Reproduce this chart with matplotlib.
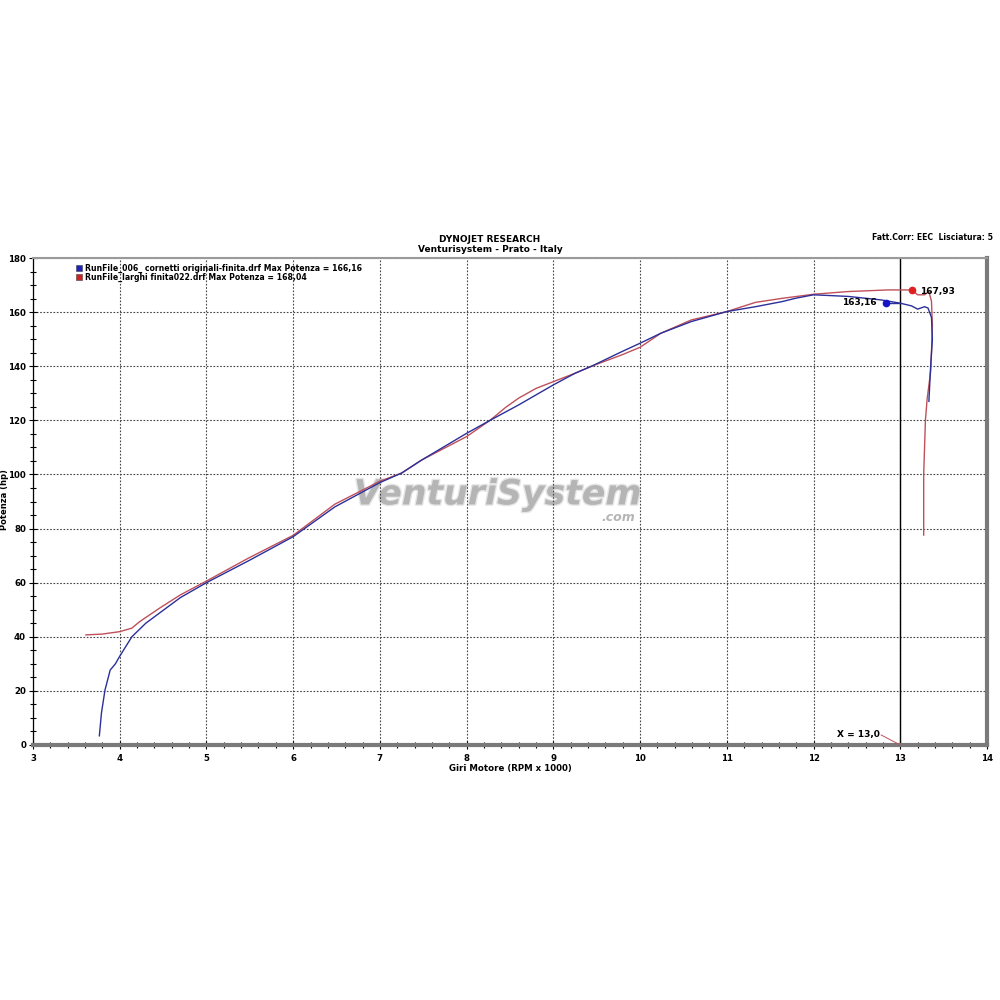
import matplotlib.pyplot as plt
import matplotlib.patheffects as pe
from matplotlib.ticker import MultipleLocator

# --- data ---
blue_x = [3.765, 3.79, 3.83, 3.89, 3.95, 4.0, 4.14, 4.3, 4.46, 4.7, 5.0, 5.48, 6.0, 6.48,
          7.0, 7.25, 7.48, 8.0, 8.27, 8.6, 9.0, 9.25, 9.44, 9.79, 10.0, 10.24, 10.59,
          11.0, 11.33, 11.64, 11.79, 12.0, 12.4, 12.78, 13.0, 13.13, 13.2, 13.28, 13.32,
          13.36, 13.37, 13.35, 13.33]
blue_y = [3.4, 12, 20.3, 27.7, 30, 32.8, 40, 45, 48.8, 54.5, 60, 68, 77, 88,
          97, 100.5, 105.3, 115.2, 120, 125.7, 133.1, 137.4, 140, 145.4, 148.5, 152.2, 156.5,
          160.2, 162, 163.9, 165.1, 166.4, 165.8, 164.5, 163.3, 162.3, 161.1, 162, 161.5,
          158, 150, 140, 127]

red_x = [3.61, 3.8, 4.0, 4.14, 4.23, 4.46, 4.7, 5.0, 5.48, 6.0, 6.48, 7.0, 7.25, 7.48,
         8.0, 8.27, 8.45, 8.6, 8.8, 9.0, 9.25, 9.44, 9.79, 10.0, 10.24, 10.59, 11.0, 11.33, 11.64,
         12.0, 12.4, 12.86, 13.13, 13.2, 13.28, 13.33, 13.36, 13.37, 13.36, 13.35, 13.31,
         13.29, 13.28, 13.27, 13.27, 13.27]
red_y = [40.7, 41, 41.9, 43.2, 45.6, 50.6, 55.5, 60.6, 69, 77.5, 89, 97.5, 100.5, 105.3,
         114, 120, 124.8, 128.2, 131.8, 134.3, 137.4, 140, 144.2, 147, 152.2, 157.1, 160.2, 163.6, 165.1,
         166.6, 167.6, 168.2, 168.2, 166.4, 166.4, 167.6, 164, 155, 145, 138, 128,
         120, 110, 100, 90, 77.6]

legend_labels = ["RunFile_006_ cornetti originali-finita.drf Max Potenza = 166,16",
                 "RunFile_larghi finita022.drf Max Potenza = 168,04"]
blue_mark = (12.83, 163.4)
red_mark = (13.13, 168.2)
cursor_x = 13.0

BLUE = "#2b2f9a"
RED = "#c0505a"

fig = plt.figure(figsize=(10, 10), dpi=100)
ax = fig.add_axes([0.033, 0.255, 0.954, 0.487])

ax.set_xlim(3, 14)
ax.set_ylim(0, 180)
ax.xaxis.set_major_locator(MultipleLocator(1))
ax.xaxis.set_minor_locator(MultipleLocator(0.2))
ax.yaxis.set_major_locator(MultipleLocator(20))
ax.yaxis.set_minor_locator(MultipleLocator(5))
ax.grid(True, which="major", color="#444444", linestyle=(0, (1.5, 1.5)), linewidth=0.8)
ax.tick_params(which="both", direction="inout", color="black", labelsize=6.2)
ax.tick_params(which="major", length=6, width=0.8)
ax.tick_params(which="minor", length=5, width=0.8)
ax.tick_params(axis="y", pad=2)
for lab in ax.get_xticklabels() + ax.get_yticklabels():
    lab.set_fontweight("bold")

ax.spines["left"].set_color("black")
ax.spines["left"].set_linewidth(0.9)
ax.spines["bottom"].set_color("#7a7a7a")
ax.spines["bottom"].set_linewidth(3)
ax.spines["top"].set_color("#9a9a9a")
ax.spines["top"].set_linewidth(1.5)
ax.spines["right"].set_color("#7a7a7a")
ax.spines["right"].set_linewidth(3)

# watermark
ax.text(8.36, 92.6, "VenturiSystem", ha="center", va="center", fontsize=25,
        fontweight="bold", style="italic", color="#b5b5b5", zorder=1,
        path_effects=[pe.withStroke(linewidth=2, foreground="#e6e6e6")])
ax.text(9.75, 84.0, ".com", ha="center", va="center", fontsize=9,
        fontweight="bold", style="italic", color="#b5b5b5", zorder=1)

ax.plot(red_x, red_y, color=RED, linewidth=1.0, zorder=3)
ax.plot(blue_x, blue_y, color=BLUE, linewidth=1.0, zorder=3)

# cursor
ax.axvline(cursor_x, color="black", linewidth=1.0, zorder=2)
ax.plot([blue_mark[0], cursor_x], [blue_mark[1], blue_mark[1]], color=BLUE, lw=1, zorder=3)
ax.plot(*blue_mark, "o", color="#1414c8", markersize=4.5, zorder=4)
ax.plot(*red_mark, "o", color="#e02020", markersize=4.5, zorder=4)
ax.text(blue_mark[0] - 0.1, blue_mark[1], "163,16", ha="right", va="center",
        fontsize=6.5, fontweight="bold")
ax.text(red_mark[0] + 0.1, red_mark[1] - 0.4, "167,93", ha="left", va="center",
        fontsize=6.5, fontweight="bold")
ax.plot([12.78, cursor_x], [3.7, 0], color=RED, linewidth=0.7, zorder=3)
ax.text(12.77, 3.7, "X = 13,0", ha="right", va="center", fontsize=6.5, fontweight="bold")

# legend-like labels
for i, (lab, col) in enumerate(zip(legend_labels, ["#2020c0", "#d02020"])):
    yy = 176.2 - i * 3.3
    ax.plot(3.53, yy, "s", color=col, markersize=4, markeredgecolor="#404040",
            markeredgewidth=0.4, zorder=4)
    ax.text(3.6, yy, lab, ha="left", va="center", fontsize=5.6, fontweight="bold")

ax.set_xlabel("Giri Motore (RPM x 1000)", fontsize=6.2, fontweight="bold", labelpad=1)
fig.text(0.005, 0.5, "Potenza (hp)", rotation=90, ha="center", va="center",
         fontsize=6, fontweight="bold")

fig.text(0.49, 0.761, "DYNOJET RESEARCH", ha="center", va="center", fontsize=6.5,
         fontweight="bold")
fig.text(0.49, 0.750, "Venturisystem - Prato - Italy", ha="center", va="center",
         fontsize=6.5, fontweight="bold")
fig.text(0.993, 0.762, "Fatt.Corr: EEC  Lisciatura: 5", ha="right", va="center",
         fontsize=5.6, fontweight="bold")

fig.savefig("out.png", dpi=100, facecolor="white")
